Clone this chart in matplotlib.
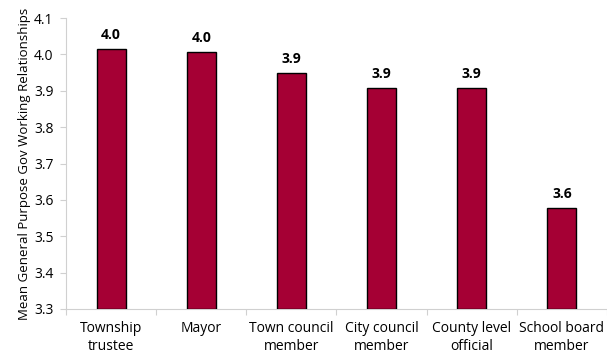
import matplotlib
matplotlib.use('Agg')
import matplotlib.pyplot as plt

categories = ['Township\ntrustee', 'Mayor', 'Town council\nmember', 'City council\nmember',
              'County level\nofficial', 'School board\nmember']
values = [4.015, 4.007, 3.949, 3.908, 3.908, 3.578]
labels = ['4.0', '4.0', '3.9', '3.9', '3.9', '3.6']

plt.rcParams['font.family'] = ['Open Sans', 'DejaVu Sans']

fig = plt.figure(figsize=(6.07, 3.56), dpi=100)
ax = fig.add_axes([66 / 607, 47 / 356, 541 / 607, 291 / 356])

x = range(len(categories))
bars = ax.bar(x, [v - 3.3 for v in values], bottom=3.3, width=0.32,
              color='#A50034', edgecolor='black', linewidth=1.0, zorder=3)

for b, v, lab in zip(bars, values, labels):
    ax.text(b.get_x() + b.get_width() / 2, v + 0.02, lab, ha='center', va='bottom',
            fontsize=10, fontweight='bold', color='black')

ax.set_xlim(-0.5, 5.5)
ax.set_ylim(3.3, 4.1)
ax.set_yticks([3.3, 3.4, 3.5, 3.6, 3.7, 3.8, 3.9, 4.0, 4.1])
ax.set_yticklabels(['3.3', '3.4', '3.5', '3.6', '3.7', '3.8', '3.9', '4.0', '4.1'], fontsize=10)
ax.set_xticks([i - 0.5 for i in range(len(categories) + 1)])
ax.set_xticklabels([])
ax.set_xticks(list(x), minor=True)
ax.set_xticklabels(categories, minor=True, fontsize=10)
ax.tick_params(axis='x', which='minor', length=0, pad=9)
ax.tick_params(axis='x', which='major', length=4, color='#D0D0D0', direction='out')
ax.tick_params(axis='y', length=4, color='#D0D0D0', pad=5)

for side in ['top', 'right']:
    ax.spines[side].set_visible(False)
for side in ['left', 'bottom']:
    ax.spines[side].set_color('#D0D0D0')

ax.set_ylabel('Mean General Purpose Gov Working Relationships', fontsize=9.5, labelpad=2)

plt.savefig('out.png', dpi=100)
